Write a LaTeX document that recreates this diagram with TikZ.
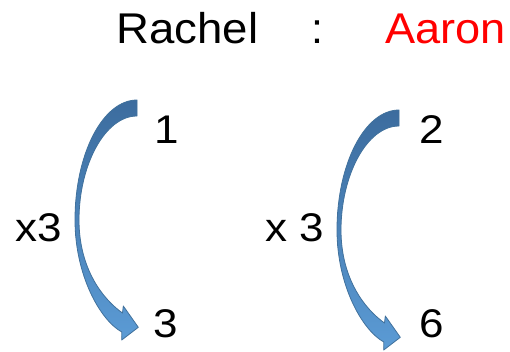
\documentclass[tikz,border=0pt]{standalone}
\usepackage{fontspec}
\setmainfont{Liberation Sans}
\definecolor{arrowtop}{RGB}{60,108,158}
\definecolor{arrowbot}{RGB}{91,155,213}
\definecolor{arrowline}{RGB}{65,113,156}
\begin{document}
\begin{tikzpicture}[x=1pt,y=-1pt,
  title/.style={inner sep=0pt, font=\fontsize{43}{50}\selectfont},
  num/.style={inner sep=0pt, font=\fontsize{40}{48}\selectfont},
  curvearrow/.style={top color=arrowtop, bottom color=arrowbot, draw=arrowline, line width=0.8pt, line join=round}]
\useasboundingbox (0,0) rectangle (510,351);
\fill[white] (0,0) rectangle (510,351);
% title
\node[title, anchor=base west] (rachel) at (116.4,43) {\scalebox{1.06}[1]{Rachel}};
\node[title, anchor=base] (colon) at (317,43) {:};
\node[title, anchor=base west, text=red] (aaron) at (385,43) {\scalebox{1.05}[1]{Aaron}};
% numbers
\node[num, anchor=base] (n1) at (167,143) {\scalebox{1.1}[1]{1}};
\node[num, anchor=base] (n2) at (432,143) {\scalebox{1.1}[1]{2}};
\node[num, anchor=base] (n3) at (166,337) {\scalebox{1.1}[1]{3}};
\node[num, anchor=base] (n6) at (432,337) {\scalebox{1.1}[1]{6}};
\node[num, anchor=base west] (m1) at (15,241) {\scalebox{1.1}[1]{x3}};
\node[num, anchor=base west] (m2) at (265,241) {\scalebox{1.1}[1]{x 3}};
% curved arrows
\path[curvearrow] (137,100) .. controls (102.8,100) and (75,153.8) .. (75,220)
  .. controls (75,275) and (100,320) .. (121.8,332)
  -- (121.7,340) -- (138.3,327.3) -- (123.3,306) -- (122.5,313)
  .. controls (104,300) and (79,270) .. (79,220)
  .. controls (79,165) and (105,116) .. (137,116) -- cycle;
\begin{scope}[shift={(262,10)}]
\path[curvearrow] (137,100) .. controls (102.8,100) and (75,153.8) .. (75,220)
  .. controls (75,275) and (100,320) .. (121.8,332)
  -- (121.7,340) -- (138.3,327.3) -- (123.3,306) -- (122.5,313)
  .. controls (104,300) and (79,270) .. (79,220)
  .. controls (79,165) and (105,116) .. (137,116) -- cycle;
\end{scope}
\end{tikzpicture}
\end{document}
